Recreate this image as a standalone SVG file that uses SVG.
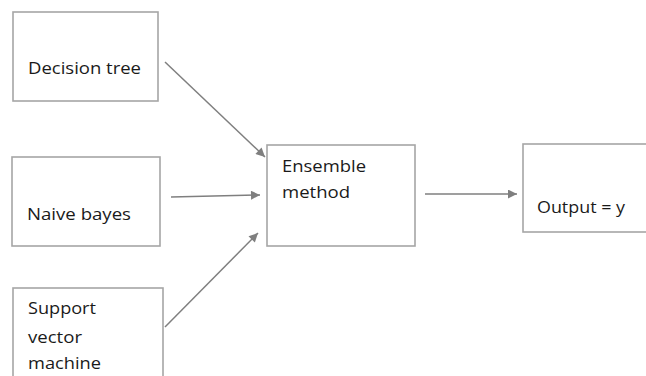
<svg xmlns="http://www.w3.org/2000/svg" width="646" height="376" viewBox="0 0 646 376">
<defs>
<style>
.box{fill:#fff;stroke:#a6a6a6;stroke-width:1.6}
.lbl{font-family:"Open Sans","Liberation Sans",sans-serif;font-size:16.5px;fill:#1a1a1a}
.conn{stroke:#7f7f7f;stroke-width:1.5;fill:none;marker-end:url(#ah)}
</style>
<marker id="ah" viewBox="0 0 10 10" refX="10" refY="5" markerWidth="11" markerHeight="9" orient="auto" markerUnits="userSpaceOnUse">
<path d="M0,0 L10,5 L0,10 z" fill="#7f7f7f"/>
</marker>
</defs>
<rect width="646" height="376" fill="#fff"/>
<g id="decision-tree">
<rect class="box" x="13" y="12" width="145" height="89"/>
<text class="lbl" x="28" y="74" textLength="113" lengthAdjust="spacingAndGlyphs">Decision tree</text>
</g>
<g id="naive-bayes">
<rect class="box" x="12" y="157" width="148" height="89"/>
<text class="lbl" x="27" y="220" textLength="104" lengthAdjust="spacingAndGlyphs">Naive bayes</text>
</g>
<g id="svm">
<rect class="box" x="13" y="288" width="150" height="100"/>
<text class="lbl" x="28" y="314" textLength="68" lengthAdjust="spacingAndGlyphs">Support</text>
<text class="lbl" x="28" y="343" textLength="54" lengthAdjust="spacingAndGlyphs">vector</text>
<text class="lbl" x="28" y="369" textLength="73" lengthAdjust="spacingAndGlyphs">machine</text>
</g>
<g id="ensemble">
<rect class="box" x="267" y="145" width="148" height="101"/>
<text class="lbl" x="282" y="172" textLength="84" lengthAdjust="spacingAndGlyphs">Ensemble</text>
<text class="lbl" x="282" y="198" textLength="68" lengthAdjust="spacingAndGlyphs">method</text>
</g>
<g id="output">
<rect class="box" x="523" y="144" width="140" height="88"/>
<text class="lbl" x="537" y="213" textLength="88" lengthAdjust="spacingAndGlyphs">Output = y</text>
</g>
<g id="connectors">
<line class="conn" x1="165" y1="62" x2="265" y2="157"/>
<line class="conn" x1="171" y1="197" x2="260" y2="195"/>
<line class="conn" x1="165" y1="327" x2="258" y2="233"/>
<line class="conn" x1="425" y1="194" x2="517" y2="194"/>
</g>
</svg>
